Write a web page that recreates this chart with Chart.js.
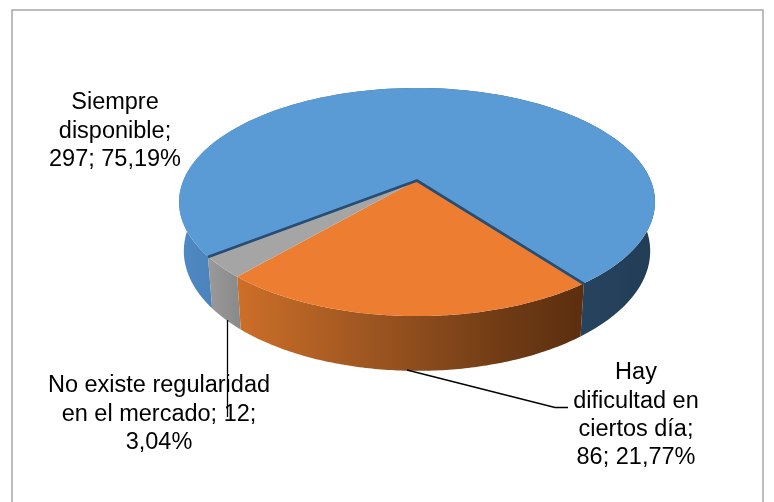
<!DOCTYPE html>
<html><head><meta charset="utf-8">
<style>html,body{margin:0;padding:0;background:#fff}canvas{display:block}</style>
<script src="https://cdn.jsdelivr.net/npm/chart.js@4"></script>
</head><body><canvas id="c" width="774" height="502"></canvas>
<script>
const categories = ['Siempre disponible', 'Hay dificultad en ciertos día', 'No existe regularidad en el mercado'];
const values = [297, 86, 12];
const percents = ['75,19%', '21,77%', '3,04%'];
const faceColors = ['#5b9bd5', '#ed7d31', '#a5a5a5'];

const labelLines = [
  ['Siempre', 'disponible;', '297; 75,19%'],
  ['Hay', 'dificultad en', 'ciertos día;', '86; 21,77%'],
  ['No existe regularidad', 'en el mercado; 12;', '3,04%']
];
const labelAnchors = [[115, 103], [636, 373], [159, 386]];
const leaders = [
  [[407, 370], [555, 407.5], [568, 407.5]],
  [[227.5, 320], [227.5, 417]]
];

const CX = 417, CY = 180, R = 233.5, K = 109.8, P = -0.193;
function topRim(a) {
  const u = Math.cos(a), v = Math.sin(a), w = 1 + P * v;
  return [CX + R * u / w, CY + K * v / w];
}
function bottomRim(a) {
  const t = topRim(a);
  return [CX + 0.98 * (t[0] - CX), 1.05 * t[1] + 39];
}
function wallFill(ctx, i) {
  const g = ctx.createLinearGradient(184, 0, 650, 0);
  if (i === 0) {
    g.addColorStop(0, '#4f89c2'); g.addColorStop(0.08, '#4a82b9');
    g.addColorStop(0.84, '#27445f'); g.addColorStop(1, '#223d56');
  } else if (i === 1) {
    g.addColorStop(0.1, '#cf7029'); g.addColorStop(0.45, '#95511f');
    g.addColorStop(0.7, '#6d3a14'); g.addColorStop(0.85, '#5d2f0f');
  } else {
    g.addColorStop(0.05, '#9a9a9a'); g.addColorStop(0.14, '#858585');
  }
  return g;
}
const pie3d = {
  id: 'pie3d',
  beforeDatasetsDraw(chart) {
    const ctx = chart.ctx;
    const arcs = chart.getDatasetMeta(0).data;
    const N = 120;
    ctx.save();
    ctx.fillStyle = '#ffffff';
    ctx.fillRect(0, 0, 774, 502);
    ctx.strokeStyle = '#a6a6a6';
    ctx.lineWidth = 1.5;
    ctx.strokeRect(12, 10, 751, 520);

    // outer walls
    arcs.forEach((arc, i) => {
      const s = arc.startAngle, e = arc.endAngle;
      ctx.beginPath();
      for (let j = 0; j <= N; j++) {
        const p = topRim(s + (e - s) * j / N);
        j ? ctx.lineTo(p[0], p[1]) : ctx.moveTo(p[0], p[1]);
      }
      for (let j = N; j >= 0; j--) {
        const p = bottomRim(s + (e - s) * j / N);
        ctx.lineTo(p[0], p[1]);
      }
      ctx.closePath();
      ctx.fillStyle = wallFill(ctx, i);
      ctx.fill();
    });
    // top faces
    arcs.forEach((arc, i) => {
      const s = arc.startAngle, e = arc.endAngle;
      ctx.beginPath();
      ctx.moveTo(CX, CY);
      for (let j = 0; j <= N; j++) {
        const p = topRim(s + (e - s) * j / N);
        ctx.lineTo(p[0], p[1]);
      }
      ctx.closePath();
      ctx.fillStyle = arc.options.backgroundColor;
      ctx.fill();
    });
    // dark inner edge of the large slice
    const a0 = arcs[0];
    const p1 = topRim(a0.startAngle), p2 = topRim(a0.endAngle);
    ctx.beginPath();
    ctx.moveTo(p1[0], p1[1] + 0.5);
    ctx.lineTo(CX, CY + 0.5);
    ctx.lineTo(p2[0], p2[1] + 0.5);
    ctx.strokeStyle = '#274d73';
    ctx.lineWidth = 2.8;
    ctx.lineJoin = 'miter';
    ctx.stroke();

    // leader lines
    ctx.strokeStyle = '#000000';
    ctx.lineWidth = 1.3;
    leaders.forEach(l => {
      ctx.beginPath();
      l.forEach((p, j) => j ? ctx.lineTo(p[0], p[1]) : ctx.moveTo(p[0], p[1]));
      ctx.stroke();
    });
    // labels
    ctx.fillStyle = '#000000';
    ctx.font = '23.5px "Liberation Sans"';
    ctx.textAlign = 'center';
    ctx.textBaseline = 'middle';
    labelLines.forEach((lines, i) => {
      lines.forEach((t, j) => ctx.fillText(t, labelAnchors[i][0], labelAnchors[i][1] + j * 28.2));
    });
    ctx.restore();
    return false;
  }
};
new Chart(document.getElementById('c'), {
  type: 'pie',
  data: { labels: categories, datasets: [{ data: values, backgroundColor: faceColors, borderWidth: 0 }] },
  options: {
    responsive: false, animation: false, rotation: -127.9,
    plugins: { legend: { display: false }, tooltip: { enabled: false } }
  },
  plugins: [pie3d]
});
</script></body></html>
